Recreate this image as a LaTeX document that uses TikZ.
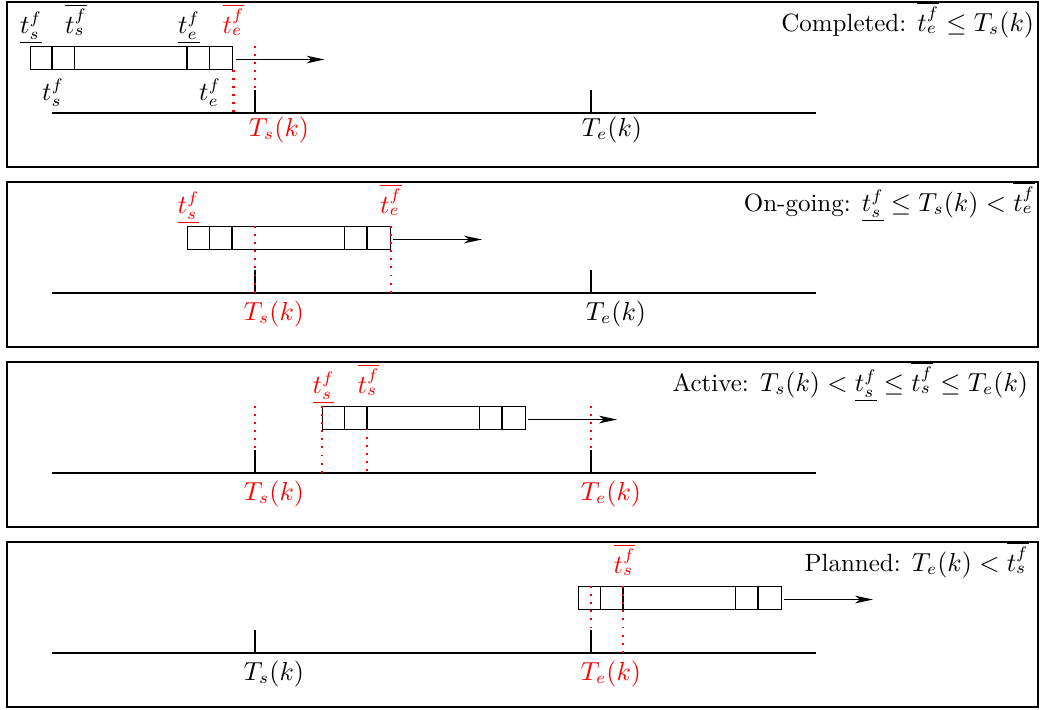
\documentclass[tikz,border=0pt]{standalone}
\usetikzlibrary{arrows.meta}
\begin{document}
\begin{tikzpicture}[x=0.42pt,y=-0.42pt,
  every node/.style={font=\fontsize{10.5}{12.6}\selectfont},
  frame/.style={draw,line width=0.65pt},
  axis/.style={line width=0.6pt},
  tickmark/.style={line width=0.6pt},
  bar/.style={draw,line width=0.6pt,inner sep=0pt,minimum width=85.05pt,
              minimum height=9.45pt,anchor=north west},
  cellsep/.style={line width=0.6pt},
  guide/.style={draw=red,line width=0.9pt,dash pattern=on 0.8pt off 2.6pt},
  flow/.style={line width=0.6pt,-{Stealth[length=7.5pt,width=3.2pt,inset=2pt]}},
  lbl/.style={inner sep=0pt,anchor=base},
  title/.style={inner sep=0pt,anchor=base east},
  hot/.style={text=red}]
\useasboundingbox (0,0) rectangle (1041,709);

% one panel: frame, time axis with T_s(k) and T_e(k) ticks, task bar of
% five cells and its moving arrow; #1 = prefix of the names, #2 = left edge of the bar
\newcommand{\timepanel}[2]{%
  \draw[frame] (7,2) rectangle (1038,167);
  \coordinate (#1-a) at (52,113);
  \coordinate (#1-b) at (816,113);
  \coordinate (#1-ts) at (255,113);
  \coordinate (#1-te) at (591,113);
  \draw[axis] (#1-a) -- (#1-b);
  \draw[tickmark] (#1-ts) -- ++(0,-23);
  \draw[tickmark] (#1-te) -- ++(0,-23);
  \node[bar] (#1-bar) at (#2,46) {};
  \foreach \d in {22.5,45,157.5,180}
    \draw[cellsep] (#2+\d,46) -- (#2+\d,68.5);
  \coordinate (#1-from) at (#2+206,59.5);
  \coordinate (#1-go) at (#2+295,59.5);
  \draw[flow] (#1-from) -- (#1-go);
}

% ---------------- Completed ----------------
\begin{scope}
  \timepanel{p1}{29.5}
  \draw[guide] (255,46) -- (255,90);
  \draw[guide] (p1-bar.south east) -- (p1-bar.south east |- p1-a);
  \node[lbl] (p1-l1) at (31,33) {$\underline{t_s^f}$};
  \node[lbl] (p1-l2) at (76,33) {$\overline{t_s^f}$};
  \node[lbl] (p1-l3) at (189,33) {$\underline{t_e^f}$};
  \node[lbl,hot] (p1-l4) at (233.5,33) {$\overline{t_e^f}$};
  \node[lbl] (p1-l5) at (53,100) {$t_s^f$};
  \node[lbl] (p1-l6) at (210,100) {$t_e^f$};
  \node[lbl,hot] (p1-ts-l) at (279,136) {$T_s(k)$};
  \node[lbl] (p1-te-l) at (612,136) {$T_e(k)$};
  \node[title] (p1-t) at (1034.5,31) {Completed: $\overline{t_e^f}\le T_s(k)$};
\end{scope}

% ---------------- On-going ----------------
\begin{scope}[shift={(0,180)}]
  \timepanel{p2}{187}
  \draw[guide] (255,46) -- (p2-ts);
  \draw[guide] (p2-bar.north east) -- (p2-bar.north east |- p2-a);
  \node[lbl,hot] (p2-l1) at (188.5,33) {$\underline{t_s^f}$};
  \node[lbl,hot] (p2-l2) at (391,33) {$\overline{t_e^f}$};
  \node[lbl,hot] (p2-ts-l) at (274,140) {$T_s(k)$};
  \node[lbl] (p2-te-l) at (616,140) {$T_e(k)$};
  \node[title] (p2-t) at (1035.5,31) {On-going: $\underline{t_s^f}\le T_s(k)<\overline{t_e^f}$};
\end{scope}

% ---------------- Active ----------------
\begin{scope}[shift={(0,360)}]
  \timepanel{p3}{322}
  \draw[guide] (255,46) -- (255,90);
  \draw[guide] (591,46) -- (591,90);
  \draw[guide] (p3-bar.north west) -- (p3-bar.north west |- p3-a);
  \draw[guide] (367,68.5) -- (367,113);
  \node[lbl,hot] (p3-l1) at (323.5,33) {$\underline{t_s^f}$};
  \node[lbl,hot] (p3-l2) at (368.5,33) {$\overline{t_s^f}$};
  \node[lbl,hot] (p3-ts-l) at (274,140) {$T_s(k)$};
  \node[lbl,hot] (p3-te-l) at (611,140) {$T_e(k)$};
  \node[title] (p3-t) at (1028.5,31) {Active: $T_s(k)<\underline{t_s^f}\le\overline{t_s^f}\le T_e(k)$};
\end{scope}

% ---------------- Planned ----------------
\begin{scope}[shift={(0,540)}]
  \timepanel{p4}{578}
  \draw[guide] (591,46) -- (591,90);
  \draw[guide] (623,46) -- (623,113);
  \node[lbl,hot] (p4-l1) at (624.5,33) {$\overline{t_s^f}$};
  \node[lbl] (p4-ts-l) at (274,140) {$T_s(k)$};
  \node[lbl,hot] (p4-te-l) at (611,140) {$T_e(k)$};
  \node[title] (p4-t) at (1029,31) {Planned: $T_e(k)<\overline{t_s^f}$};
\end{scope}
\end{tikzpicture}
\end{document}
